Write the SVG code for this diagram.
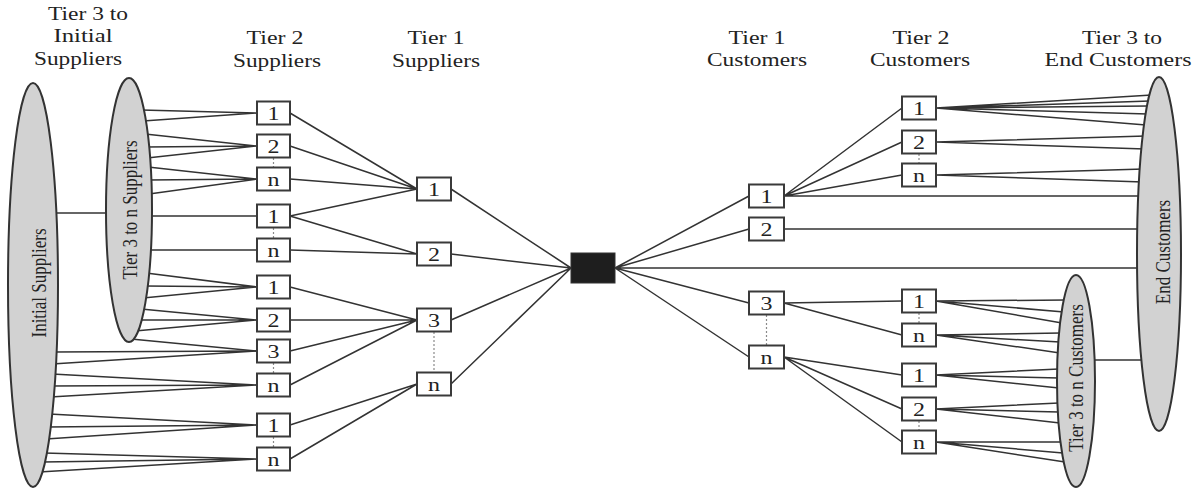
<svg xmlns="http://www.w3.org/2000/svg" width="1203" height="489" viewBox="0 0 1203 489">
<style>
.ln{stroke:#333;stroke-width:1.5;fill:none}
.dot{stroke:#8a8a8a;stroke-width:1.2;stroke-dasharray:2 2;fill:none}
.box{fill:#fff;stroke:#3a3a3a;stroke-width:2}
.ell{fill:#d2d2d2;stroke:#333;stroke-width:2}
.num{font-family:"Liberation Serif","Times New Roman",serif;font-size:18px;fill:#222;text-anchor:middle}
.hdr{font-family:"Liberation Serif","Times New Roman",serif;font-size:18.5px;fill:#222;text-anchor:middle}
.rot{font-family:"Liberation Serif","Times New Roman",serif;font-size:17px;fill:#222;text-anchor:middle}
</style>
<rect width="1203" height="489" fill="#fff"/>
<g id="headers">
<text class="hdr" x="88" y="20" textLength="80" lengthAdjust="spacingAndGlyphs">Tier 3 to</text>
<text class="hdr" x="83" y="41.5" textLength="59" lengthAdjust="spacingAndGlyphs">Initial</text>
<text class="hdr" x="78" y="65" textLength="88" lengthAdjust="spacingAndGlyphs">Suppliers</text>
<text class="hdr" x="275" y="44" textLength="57" lengthAdjust="spacingAndGlyphs">Tier 2</text>
<text class="hdr" x="277" y="67" textLength="88" lengthAdjust="spacingAndGlyphs">Suppliers</text>
<text class="hdr" x="436" y="44" textLength="57" lengthAdjust="spacingAndGlyphs">Tier 1</text>
<text class="hdr" x="436" y="67" textLength="88" lengthAdjust="spacingAndGlyphs">Suppliers</text>
<text class="hdr" x="757" y="44" textLength="57" lengthAdjust="spacingAndGlyphs">Tier 1</text>
<text class="hdr" x="757" y="66" textLength="100" lengthAdjust="spacingAndGlyphs">Customers</text>
<text class="hdr" x="921" y="44" textLength="57" lengthAdjust="spacingAndGlyphs">Tier 2</text>
<text class="hdr" x="920" y="66" textLength="100" lengthAdjust="spacingAndGlyphs">Customers</text>
<text class="hdr" x="1122" y="44" textLength="80" lengthAdjust="spacingAndGlyphs">Tier 3 to</text>
<text class="hdr" x="1118" y="66" textLength="147" lengthAdjust="spacingAndGlyphs">End Customers</text>
</g>
<g id="connectors">
<path class="ln" d="M141,110L257,113M143,121L257,113M145,134L257,146M146,147L257,146M147,158L257,146M148,167L257,179M148,180L257,179M149,194L257,179M149,216L257,216M148,250L257,250M146,273L257,287M145,286L257,287M143,298L257,287M141,309L257,320M139,320L257,320M135,331L257,320M131,339L257,351"/>
<path class="ln" d="M53,352L257,351M52,364L257,351M52,374L257,385M51,386L257,385M50,397L257,385M49,414L257,425M47,427L257,425M46,439L257,425M44,453L257,459M42,462L257,459M39,472L257,459"/>
<path class="ln" d="M53,213L109,213"/>
<path class="ln" d="M290,113L417,189M290,146L417,189M290,179L417,189M290,216L417,189M290,216L417,254M290,250L417,254M290,287L417,320M290,320L417,320M290,351L417,320M290,385L417,320M290,425L417,384M290,459L417,384"/>
<path class="ln" d="M451,189L571,268M451,254L571,268M451,320L571,268M451,384L571,268"/>
<path class="ln" d="M615,268L749,196M615,268L749,229M615,268L1142,268M615,268L749,303M615,268L749,357"/>
<path class="ln" d="M784,196L902,108M784,196L902,142M784,196L902,175M784,196L1142,196M784,229L1142,229M784,303L902,301M784,303L902,335M784,357L902,375M784,357L902,409M784,357L902,442"/>
<path class="ln" d="M936,108L1152,95M936,108L1150,101M936,108L1149,106M936,108L1148,114M936,108L1146,125M936,142L1146,136M936,142L1145,149M936,175L1144,169M936,175L1143,182"/>
<path class="ln" d="M936,301L1066,300M936,301L1064,312M936,301L1062,323M936,335L1061,333M936,335L1060,342M936,335L1060,353M936,375L1059,369M936,375L1059,378M936,375L1059,388M936,409L1059,403M936,409L1059,412M936,409L1060,423M936,442L1062,442M936,442L1063,453M936,442L1065,462"/>
<path class="ln" d="M1092,360L1141,360"/>
<path class="dot" d="M273.5,158V168M273.5,228V238M273.5,363V373M273.5,437V447M434,332V372M766.5,315V345M919,154V163M919,313V323M919,421V430"/>
</g>
<g id="initial-suppliers">
<ellipse class="ell" cx="33" cy="285" rx="25" ry="202"/>
<text class="rot" transform="translate(46,283) scale(1.25,1) rotate(-90)">Initial Suppliers</text>
</g>
<g id="tier3-suppliers">
<ellipse class="ell" cx="129" cy="210" rx="23" ry="132"/>
<text class="rot" transform="translate(137,210) scale(1.25,1) rotate(-90)">Tier 3 to n Suppliers</text>
</g>
<g id="end-customers">
<ellipse class="ell" cx="1159" cy="254" rx="22" ry="177"/>
<text class="rot" transform="translate(1170,252) scale(1.25,1) rotate(-90)">End Customers</text>
</g>
<g id="tier3-customers">
<ellipse class="ell" cx="1076" cy="381" rx="19" ry="106"/>
<text class="rot" transform="translate(1083,378) scale(1.25,1) rotate(-90)">Tier 3 to n Customers</text>
</g>
<g id="s2-1"><rect class="box" x="257" y="101.5" width="33" height="23"/><text class="num" x="273.5" y="119.5" textLength="12" lengthAdjust="spacingAndGlyphs">1</text></g>
<g id="s2-2"><rect class="box" x="257" y="134.5" width="33" height="23"/><text class="num" x="273.5" y="152.5" textLength="12" lengthAdjust="spacingAndGlyphs">2</text></g>
<g id="s2-n"><rect class="box" x="257" y="167.5" width="33" height="23"/><text class="num" x="273.5" y="185.5" textLength="12" lengthAdjust="spacingAndGlyphs">n</text></g>
<g id="s2-1b"><rect class="box" x="257" y="204.5" width="33" height="23"/><text class="num" x="273.5" y="222.5" textLength="12" lengthAdjust="spacingAndGlyphs">1</text></g>
<g id="s2-nb"><rect class="box" x="257" y="238.5" width="33" height="23"/><text class="num" x="273.5" y="256.5" textLength="12" lengthAdjust="spacingAndGlyphs">n</text></g>
<g id="s2-1c"><rect class="box" x="257" y="275.5" width="33" height="23"/><text class="num" x="273.5" y="293.5" textLength="12" lengthAdjust="spacingAndGlyphs">1</text></g>
<g id="s2-2c"><rect class="box" x="257" y="308.5" width="33" height="23"/><text class="num" x="273.5" y="326.5" textLength="12" lengthAdjust="spacingAndGlyphs">2</text></g>
<g id="s2-3c"><rect class="box" x="257" y="339.5" width="33" height="23"/><text class="num" x="273.5" y="357.5" textLength="12" lengthAdjust="spacingAndGlyphs">3</text></g>
<g id="s2-nc"><rect class="box" x="257" y="373.5" width="33" height="23"/><text class="num" x="273.5" y="391.5" textLength="12" lengthAdjust="spacingAndGlyphs">n</text></g>
<g id="s2-1d"><rect class="box" x="257" y="413.5" width="33" height="23"/><text class="num" x="273.5" y="431.5" textLength="12" lengthAdjust="spacingAndGlyphs">1</text></g>
<g id="s2-nd"><rect class="box" x="257" y="447.5" width="33" height="23"/><text class="num" x="273.5" y="465.5" textLength="12" lengthAdjust="spacingAndGlyphs">n</text></g>
<g id="s1-1"><rect class="box" x="417" y="177.5" width="34" height="23"/><text class="num" x="434" y="195.5" textLength="12" lengthAdjust="spacingAndGlyphs">1</text></g>
<g id="s1-2"><rect class="box" x="417" y="242.5" width="34" height="23"/><text class="num" x="434" y="260.5" textLength="12" lengthAdjust="spacingAndGlyphs">2</text></g>
<g id="s1-3"><rect class="box" x="417" y="308.5" width="34" height="23"/><text class="num" x="434" y="326.5" textLength="12" lengthAdjust="spacingAndGlyphs">3</text></g>
<g id="s1-n"><rect class="box" x="417" y="372.5" width="34" height="23"/><text class="num" x="434" y="390.5" textLength="12" lengthAdjust="spacingAndGlyphs">n</text></g>
<g id="focal"><rect x="571" y="253" width="44" height="30" fill="#1e1e1e" stroke="#333" stroke-width="1"/></g>
<g id="c1-1"><rect class="box" x="749" y="184.5" width="35" height="23"/><text class="num" x="766.5" y="202.5" textLength="12" lengthAdjust="spacingAndGlyphs">1</text></g>
<g id="c1-2"><rect class="box" x="749" y="217.5" width="35" height="23"/><text class="num" x="766.5" y="235.5" textLength="12" lengthAdjust="spacingAndGlyphs">2</text></g>
<g id="c1-3"><rect class="box" x="749" y="291.5" width="35" height="23"/><text class="num" x="766.5" y="309.5" textLength="12" lengthAdjust="spacingAndGlyphs">3</text></g>
<g id="c1-n"><rect class="box" x="749" y="345.5" width="35" height="23"/><text class="num" x="766.5" y="363.5" textLength="12" lengthAdjust="spacingAndGlyphs">n</text></g>
<g id="c2-1"><rect class="box" x="902" y="96.5" width="34" height="23"/><text class="num" x="919" y="114.5" textLength="12" lengthAdjust="spacingAndGlyphs">1</text></g>
<g id="c2-2"><rect class="box" x="902" y="130.5" width="34" height="23"/><text class="num" x="919" y="148.5" textLength="12" lengthAdjust="spacingAndGlyphs">2</text></g>
<g id="c2-n"><rect class="box" x="902" y="163.5" width="34" height="23"/><text class="num" x="919" y="181.5" textLength="12" lengthAdjust="spacingAndGlyphs">n</text></g>
<g id="c2-1b"><rect class="box" x="902" y="289.5" width="34" height="23"/><text class="num" x="919" y="307.5" textLength="12" lengthAdjust="spacingAndGlyphs">1</text></g>
<g id="c2-nb"><rect class="box" x="902" y="323.5" width="34" height="23"/><text class="num" x="919" y="341.5" textLength="12" lengthAdjust="spacingAndGlyphs">n</text></g>
<g id="c2-1c"><rect class="box" x="902" y="363.5" width="34" height="23"/><text class="num" x="919" y="381.5" textLength="12" lengthAdjust="spacingAndGlyphs">1</text></g>
<g id="c2-2c"><rect class="box" x="902" y="397.5" width="34" height="23"/><text class="num" x="919" y="415.5" textLength="12" lengthAdjust="spacingAndGlyphs">2</text></g>
<g id="c2-nc"><rect class="box" x="902" y="430.5" width="34" height="23"/><text class="num" x="919" y="448.5" textLength="12" lengthAdjust="spacingAndGlyphs">n</text></g>
</svg>
